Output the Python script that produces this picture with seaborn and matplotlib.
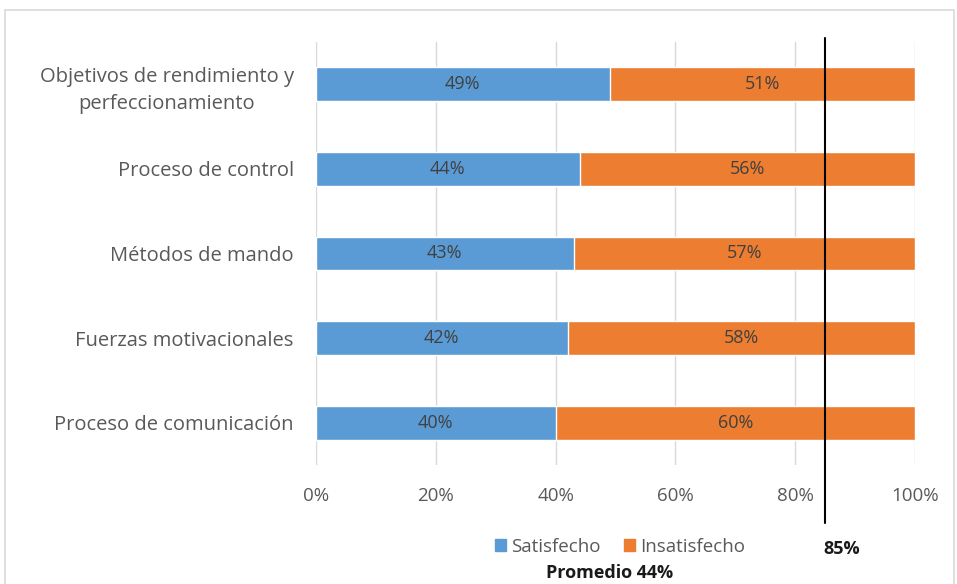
import matplotlib
matplotlib.use("Agg")
import matplotlib.pyplot as plt
from matplotlib.patches import Rectangle, Patch
from matplotlib.ticker import PercentFormatter
import seaborn as sns
import pandas as pd

categories = [
    "Objetivos de rendimiento y\nperfeccionamiento",
    "Proceso de control",
    "Métodos de mando",
    "Fuerzas motivacionales",
    "Proceso de comunicación",
]
satisfecho = [49, 44, 43, 42, 40]
insatisfecho = [51, 56, 57, 58, 60]
meta = 85
promedio = 44

BLUE = "#5B9BD5"
ORANGE = "#ED7D31"
GRAY = "#595959"

sns.set_theme(style="white")
plt.rcParams["font.family"] = ["Open Sans", "DejaVu Sans"]

df = pd.DataFrame({
    "categoria": categories,
    "satisfecho": satisfecho,
    "total": [s + i for s, i in zip(satisfecho, insatisfecho)],
})

fig = plt.figure(figsize=(9.57, 5.84), dpi=100)
ax = fig.add_axes([316 / 957, 1 - 465 / 584, 599 / 957, 423 / 584])

sns.barplot(data=df, x="total", y="categoria", orient="h", color=ORANGE,
            width=0.4, saturation=1, ax=ax, zorder=2)
sns.barplot(data=df, x="satisfecho", y="categoria", orient="h", color=BLUE,
            width=0.4, saturation=1, ax=ax, zorder=2)

for i, (s, n) in enumerate(zip(satisfecho, insatisfecho)):
    ax.text(s / 2, i, f"{s}%", ha="center", va="center", fontsize=13, color="#404040", zorder=3)
    ax.text(s + n / 2, i, f"{n}%", ha="center", va="center", fontsize=13, color="#404040", zorder=3)

ax.set_xlim(0, 100)
ax.set_ylim(4.5, -0.5)
ax.xaxis.set_major_formatter(PercentFormatter(decimals=0))
ax.set_xticks(range(0, 101, 20))
ax.grid(axis="x", color="#D9D9D9", linewidth=1, zorder=0)
ax.set_axisbelow(True)
for sp in ax.spines.values():
    sp.set_visible(False)
ax.set_xlabel("")
ax.set_ylabel("")
ax.tick_params(axis="x", length=0, pad=16, labelsize=13.5, labelcolor=GRAY)
ax.tick_params(axis="y", length=0, pad=16, labelsize=14.5, labelcolor=GRAY)
for lbl in ax.get_yticklabels():
    lbl.set_multialignment("center")
    lbl.set_linespacing(1.5)

# target line, extending below the axis
ax.plot([meta, meta], [-0.55, 5.18], color="black", linewidth=1.5, zorder=4, clip_on=False)

handles = [Patch(color=BLUE, label="Satisfecho"), Patch(color=ORANGE, label="Insatisfecho")]
fig.legend(handles=handles, loc="center", bbox_to_anchor=(620 / 957, 1 - 547 / 584),
           ncol=2, frameon=False, fontsize=13.5, handlelength=0.6, handleheight=0.6,
           handletextpad=0.3, columnspacing=1.2, labelcolor=GRAY)
fig.text(842 / 957, 1 - 549 / 584, f"{meta}%", ha="center", va="center",
         fontsize=13, fontweight="bold", color="#1a1a1a")
fig.text(610 / 957, 1 - 573 / 584, f"Promedio {promedio}%", ha="center", va="center",
         fontsize=13, fontweight="bold", color="#1a1a1a")

fig.patches.append(Rectangle((5 / 957, -0.02), 949 / 957, 1 - 10 / 584 + 0.02,
                             transform=fig.transFigure, fill=False,
                             edgecolor="#D9D9D9", linewidth=1.2))

fig.savefig("out.png", dpi=100)
